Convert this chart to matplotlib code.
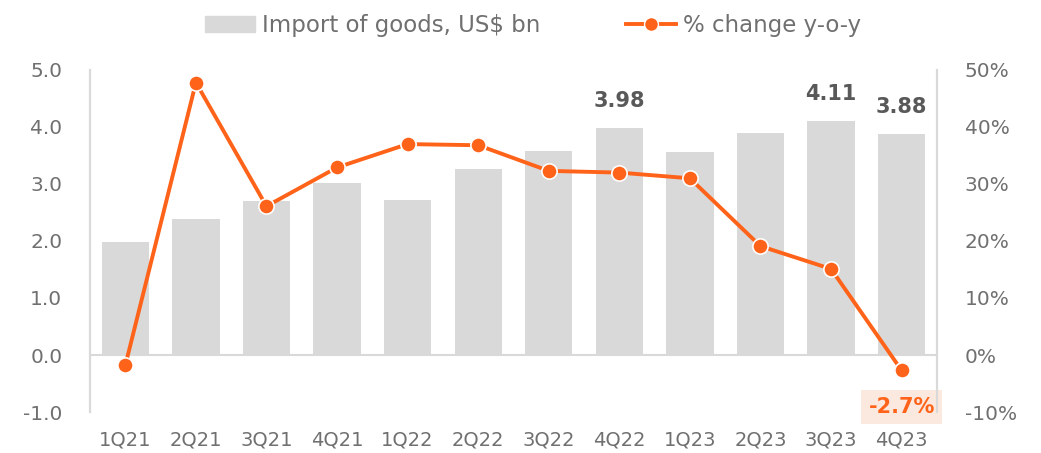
import matplotlib
matplotlib.use('Agg')
import matplotlib.pyplot as plt
from matplotlib.patches import Patch
from matplotlib.lines import Line2D
from matplotlib.ticker import FuncFormatter

# data
quarters = ['1Q21', '2Q21', '3Q21', '4Q21', '1Q22', '2Q22', '3Q22', '4Q22',
            '1Q23', '2Q23', '3Q23', '4Q23']
imports_bn = [1.98, 2.39, 2.71, 3.02, 2.72, 3.27, 3.58, 3.98, 3.57, 3.89, 4.11, 3.88]
yoy_pct = [-1.8, 47.8, 26.1, 32.9, 37.0, 36.8, 32.3, 32.0, 31.0, 19.1, 15.1, -2.7]
labelled_bars = ['4Q22', '3Q23', '4Q23']

grey = '#D9D9D9'
orange = '#FF6319'
txt = '#707070'

plt.rcParams['font.family'] = ['DejaVu Sans']

fig = plt.figure(figsize=(10.41, 4.53), dpi=100)
ax = fig.add_axes([0.0865, 0.0905, 0.8135, 0.755])
ax2 = ax.twinx()

x = list(range(len(quarters)))
ax.bar(x, imports_bn, width=0.67, color=grey, zorder=1)
ax.axhline(0, color=grey, lw=1.5, zorder=0)

ax.set_xlim(-0.5, len(quarters) - 0.5)
ax.set_ylim(-1, 5)
ax.set_yticks([-1, 0, 1, 2, 3, 4, 5])
ax.yaxis.set_major_formatter(FuncFormatter(lambda v, p: f'{v:.1f}'))
ax.set_xticks(x)
ax.set_xticklabels(quarters)

for i, q in enumerate(quarters):
    if q in labelled_bars:
        ax.annotate(f'{imports_bn[i]:.2f}', (i, imports_bn[i]), xytext=(0, 12),
                    textcoords='offset points', ha='center', va='bottom',
                    fontsize=15, fontweight='bold', color='#595959')

ax2.plot(x, yoy_pct, color=orange, lw=2.8, marker='o', ms=11,
         markeredgecolor='white', markeredgewidth=1.2, zorder=3)
ax2.set_ylim(-10, 50)
ax2.set_yticks([-10, 0, 10, 20, 30, 40, 50])
ax2.yaxis.set_major_formatter(FuncFormatter(lambda v, p: f'{v:.0f}%'))

# last value callout
ax.text(11, -0.91, f'{yoy_pct[-1]:.1f}%', ha='center', va='center',
        fontsize=15, fontweight='bold', color=orange,
        bbox=dict(boxstyle='square,pad=0.35', fc='#FBE9DF', ec='none'), zorder=5)

for a in (ax, ax2):
    for s in ('top', 'bottom'):
        a.spines[s].set_visible(False)
    a.spines['left'].set_color(grey)
    a.spines['right'].set_color(grey)
    a.spines['left'].set_linewidth(1.5)
    a.spines['right'].set_linewidth(1.5)
    a.tick_params(length=0, labelsize=14.5, colors=txt)
ax.tick_params(axis='x', labelsize=14)
ax.tick_params(axis='y', pad=20)
ax.tick_params(axis='x', pad=13)
ax2.tick_params(axis='y', pad=20)

handles = [Patch(color=grey),
           Line2D([0], [0], color=orange, lw=2.8, marker='o', ms=10,
                  markeredgecolor='white')]
fig.legend(handles, ['Import of goods, US$ bn', '% change y-o-y'],
           loc='upper center', bbox_to_anchor=(0.512, 1.015), ncol=2, frameon=False,
           fontsize=16.5, labelcolor=txt, columnspacing=3.7, handlelength=2.2,
           handletextpad=0.3)

fig.savefig('out.png', dpi=100)
